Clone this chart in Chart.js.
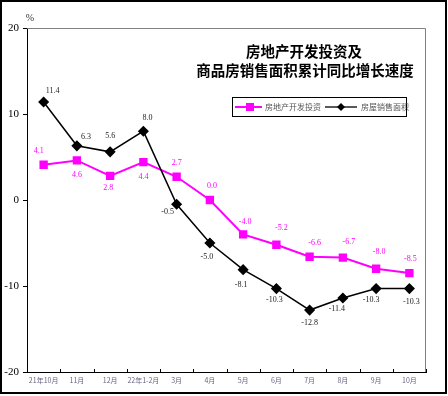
<!DOCTYPE html>
<html><head><meta charset="utf-8">
<script src="https://cdn.jsdelivr.net/npm/chart.js@4"></script>
<style>html,body{margin:0;padding:0;background:#fff}#wrap{width:448px;height:396px;position:relative}</style>
</head><body><div id="wrap"><canvas id="c" width="448" height="396"></canvas></div>
<script>
const categories = ['21年10月','11月','12月','22年1-2月','3月','4月','5月','6月','7月','8月','9月','10月'];
const investment = [4.1, 4.6, 2.8, 4.4, 2.7, 0.0, -4.0, -5.2, -6.6, -6.7, -8.0, -8.5];
const salesArea = [11.4, 6.3, 5.6, 8.0, -0.5, -5.0, -8.1, -10.3, -12.8, -11.4, -10.3, -10.3];
const yTicks = [-20, -10, 0, 10, 20];
const seriesNames = ['房地产开发投资', '房屋销售面积'];
const titleLines = ['房地产开发投资及', '商品房销售面积累计同比增长速度'];

const MAG = '#ff00ff';
const DARK = '#000000';
// label offsets (pixels) relative to each point
const invOffsets = [[-5,-14],[0,14],[-2,12],[0,15],[0,-14],[2,-14],[2,-12],[5,-17],[5,-14],[6,-16],[3,-17],[1,-14]];
const salesOffsets = [[9,-11],[9,-9],[0,-16],[4,-13],[-9,8],[-3,14],[-2,15],[-2,11],[0,13],[-6,11],[-5,11],[2,13]];

const decor = {
  id: 'decor',
  afterDraw(chart) {
    const ctx = chart.ctx, a = chart.chartArea, xs = chart.scales.x, ys = chart.scales.y;
    ctx.save();
    // plot frame top/right
    ctx.strokeStyle = '#808080'; ctx.lineWidth = 1;
    ctx.beginPath();
    ctx.moveTo(a.left, a.top + 0.5); ctx.lineTo(a.right - 0.5, a.top + 0.5); ctx.lineTo(a.right - 0.5, a.bottom);
    ctx.stroke();
    // inward x ticks at category boundaries
    ctx.strokeStyle = '#000'; ctx.lineWidth = 1;
    ctx.beginPath();
    for (let i = 0; i <= categories.length; i++) {
      const x = Math.round(xs.getPixelForValue(i - 0.5)) + 0.5;
      ctx.moveTo(x, a.bottom); ctx.lineTo(x, a.bottom - 3);
    }
    ctx.stroke();
    // outer border
    ctx.strokeStyle = '#000'; ctx.lineWidth = 2;
    ctx.strokeRect(1, 1, 445, 392);
    // % unit
    ctx.fillStyle = '#333'; ctx.font = '10px "Liberation Serif"';
    ctx.textAlign = 'center'; ctx.textBaseline = 'middle';
    ctx.fillText('%', 30, 18);
    // title
    ctx.fillStyle = '#000'; ctx.font = 'bold 14.5px "Noto Sans CJK SC"';
    ctx.fillText(titleLines[0], 304, 51);
    ctx.fillText(titleLines[1], 305, 70);
    // legend
    ctx.lineWidth = 1; ctx.strokeStyle = '#000';
    ctx.strokeRect(232.5, 97.5, 174, 19);
    const ly = 107;
    ctx.strokeStyle = MAG; ctx.lineWidth = 2;
    ctx.beginPath(); ctx.moveTo(235, ly); ctx.lineTo(262, ly); ctx.stroke();
    ctx.fillStyle = MAG; ctx.fillRect(246, ly - 4, 8, 8);
    ctx.strokeStyle = '#222'; ctx.lineWidth = 1.5;
    ctx.beginPath(); ctx.moveTo(325, ly); ctx.lineTo(357, ly); ctx.stroke();
    ctx.fillStyle = '#000';
    ctx.beginPath(); ctx.moveTo(341, ly - 4); ctx.lineTo(345, ly); ctx.lineTo(341, ly + 4); ctx.lineTo(337, ly); ctx.closePath(); ctx.fill();
    ctx.fillStyle = '#555'; ctx.font = '8px "Noto Sans CJK SC"';
    ctx.textAlign = 'left';
    ctx.fillText(seriesNames[0], 265, ly);
    ctx.fillText(seriesNames[1], 361, ly);
    // data labels
    ctx.textAlign = 'center'; ctx.font = '8px "Liberation Serif"';
    const drawLabels = (dsIndex, vals, offs, color) => {
      const meta = chart.getDatasetMeta(dsIndex);
      ctx.fillStyle = color;
      meta.data.forEach((pt, i) => {
        ctx.fillText(vals[i].toFixed(1), pt.x + offs[i][0], pt.y + offs[i][1]);
      });
    };
    drawLabels(0, investment, invOffsets, MAG);
    drawLabels(1, salesArea, salesOffsets, '#222');
    ctx.restore();
  }
};

new Chart(document.getElementById('c'), {
  type: 'line',
  data: {
    labels: categories,
    datasets: [
      { label: seriesNames[0], data: investment, borderColor: MAG, backgroundColor: MAG, borderWidth: 2,
        pointStyle: 'rect', pointRadius: 4.5, pointHoverRadius: 4.5, tension: 0, order: 2 },
      { label: seriesNames[1], data: salesArea, borderColor: DARK, backgroundColor: DARK, borderWidth: 1.5,
        pointStyle: 'rectRot', pointRadius: 4.5, pointHoverRadius: 4.5, tension: 0, order: 1 }
    ]
  },
  options: {
    responsive: false, animation: false, devicePixelRatio: 1,
    layout: { padding: { left: 0, top: 28, right: 22, bottom: 0 } },
    plugins: { legend: { display: false }, title: { display: false }, tooltip: { enabled: false } },
    scales: {
      x: {
        type: 'category', offset: true,
        grid: { display: false, drawTicks: false },
        border: { display: true, color: '#000', width: 1 },
        ticks: { color: '#6b6380', font: { family: '"Noto Sans CJK SC"', size: 7 }, padding: 4, maxRotation: 0, autoSkip: false },
        afterFit(s) { s.height = 24; }
      },
      y: {
        min: -20, max: 20,
        afterBuildTicks(s) { s.ticks = yTicks.map(v => ({ value: v })); },
        grid: { display: true, drawOnChartArea: false, drawTicks: true, tickLength: 4, color: '#000' },
        border: { display: true, color: '#000', width: 1 },
        ticks: { color: '#000', font: { family: '"Liberation Serif"', size: 11 }, padding: 4 },
        afterFit(s) { s.width = 27; }
      }
    }
  },
  plugins: [decor]
});
</script></body></html>
